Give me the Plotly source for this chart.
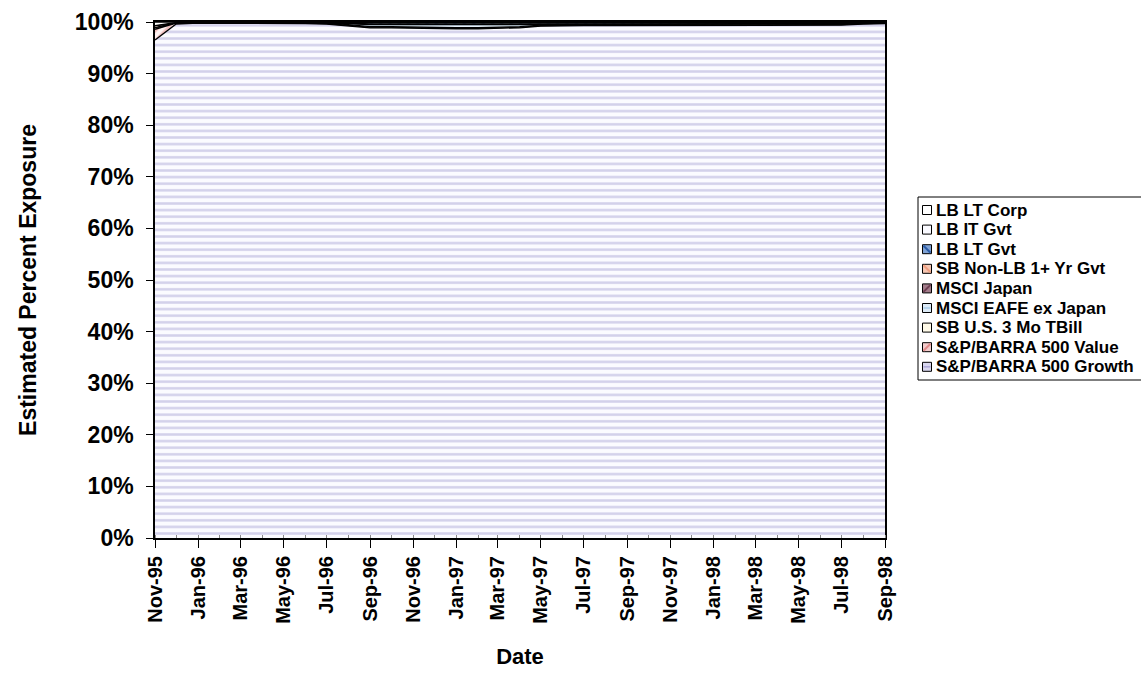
import plotly.graph_objects as go

# Monthly exposure estimates, Nov-95 .. Sep-98 (percent of portfolio)
months = ["1995-11-01", "1995-12-01", "1996-01-01", "1996-02-01", "1996-03-01", "1996-04-01",
          "1996-05-01", "1996-06-01", "1996-07-01", "1996-08-01", "1996-09-01", "1996-10-01",
          "1996-11-01", "1996-12-01", "1997-01-01", "1997-02-01", "1997-03-01", "1997-04-01",
          "1997-05-01", "1997-06-01", "1997-07-01", "1997-08-01", "1997-09-01", "1997-10-01",
          "1997-11-01", "1997-12-01", "1998-01-01", "1998-02-01", "1998-03-01", "1998-04-01",
          "1998-05-01", "1998-06-01", "1998-07-01", "1998-08-01", "1998-09-01"]

sp_growth = [96.5, 99.6, 99.8, 99.8, 99.8, 99.8, 99.7, 99.7, 99.6, 99.3, 98.9, 98.9,
             98.8, 98.8, 98.7, 98.7, 98.8, 98.9, 99.2, 99.3, 99.3, 99.3, 99.3, 99.3,
             99.3, 99.3, 99.3, 99.3, 99.3, 99.3, 99.3, 99.3, 99.4, 99.6, 99.7]
sp_value = [2.1, 0.2, 0.1, 0.1, 0.1, 0.1, 0.1, 0.1, 0.1, 0.1, 0.1, 0.1,
            0.1, 0.1, 0.1, 0.1, 0.1, 0.1, 0.1, 0.1, 0.1, 0.1, 0.1, 0.1,
            0.1, 0.1, 0.1, 0.1, 0.1, 0.1, 0.1, 0.1, 0.1, 0.1, 0.1]
tbill = [0.3, 0.1, 0.0, 0.0, 0.0, 0.0, 0.1, 0.1, 0.1, 0.1, 0.1, 0.1,
         0.1, 0.1, 0.1, 0.1, 0.1, 0.1, 0.1, 0.1, 0.1, 0.1, 0.1, 0.1,
         0.1, 0.1, 0.1, 0.1, 0.1, 0.1, 0.1, 0.1, 0.1, 0.1, 0.0]
eafe_ex_japan = [0.0, 0.0, 0.0, 0.0, 0.0, 0.0, 0.0, 0.0, 0.1, 0.2, 0.4, 0.4,
                 0.5, 0.5, 0.6, 0.6, 0.5, 0.4, 0.2, 0.1, 0.1, 0.1, 0.1, 0.1,
                 0.1, 0.1, 0.1, 0.1, 0.1, 0.1, 0.1, 0.1, 0.1, 0.1, 0.0]
msci_japan = [0.0, 0.0, 0.0, 0.0, 0.0, 0.0, 0.0, 0.0, 0.0, 0.1, 0.1, 0.1,
              0.1, 0.1, 0.1, 0.1, 0.1, 0.1, 0.1, 0.1, 0.1, 0.1, 0.1, 0.1,
              0.1, 0.1, 0.1, 0.1, 0.1, 0.1, 0.1, 0.1, 0.0, 0.0, 0.0]
sb_non_lb = [0.4, 0.0, 0.0, 0.0, 0.0, 0.0, 0.0, 0.0, 0.0, 0.0, 0.0, 0.0,
             0.0, 0.0, 0.0, 0.0, 0.0, 0.0, 0.0, 0.0, 0.0, 0.0, 0.0, 0.0,
             0.0, 0.0, 0.0, 0.0, 0.0, 0.0, 0.0, 0.0, 0.0, 0.0, 0.0]
lb_lt_gvt = [0.0, 0.0, 0.0, 0.0, 0.0, 0.0, 0.0, 0.0, 0.0, 0.1, 0.2, 0.2,
             0.2, 0.2, 0.2, 0.2, 0.2, 0.2, 0.1, 0.1, 0.1, 0.1, 0.1, 0.1,
             0.1, 0.1, 0.1, 0.1, 0.1, 0.1, 0.1, 0.1, 0.1, 0.0, 0.1]
lb_it_gvt = [0.0, 0.0, 0.0, 0.0, 0.0, 0.0, 0.0, 0.0, 0.0, 0.0, 0.1, 0.1,
             0.1, 0.1, 0.1, 0.1, 0.1, 0.1, 0.1, 0.1, 0.1, 0.1, 0.1, 0.1,
             0.1, 0.1, 0.1, 0.1, 0.1, 0.1, 0.1, 0.1, 0.1, 0.0, 0.0]
lb_lt_corp = [0.7, 0.1, 0.1, 0.1, 0.1, 0.1, 0.1, 0.1, 0.1, 0.1, 0.1, 0.1,
              0.1, 0.1, 0.1, 0.1, 0.1, 0.1, 0.1, 0.1, 0.1, 0.1, 0.1, 0.1,
              0.1, 0.1, 0.1, 0.1, 0.1, 0.1, 0.1, 0.1, 0.1, 0.1, 0.1]

tick_dates = months[::2]
tick_labels = ["Nov-95", "Jan-96", "Mar-96", "May-96", "Jul-96", "Sep-96", "Nov-96", "Jan-97",
               "Mar-97", "May-97", "Jul-97", "Sep-97", "Nov-97", "Jan-98", "Mar-98", "May-98",
               "Jul-98", "Sep-98"]

# stacking order, bottom to top:
# (name, values, hatch shape, hatch colour, background, legend swatch colour)
series = [
    ("S&P/BARRA 500 Growth", sp_growth, "-", "#aca7d6", "#fbfbff", "#d8d6ee"),
    ("S&P/BARRA 500 Value", sp_value, "/", "#e08a8a", "#fff4f4", "#f3cccc"),
    ("SB U.S. 3 Mo TBill", tbill, "", "#fff6e0", "#fff8e6", "#fffae8"),
    ("MSCI EAFE ex Japan", eafe_ex_japan, "-", "#a9cbea", "#ffffff", "#dceaf6"),
    ("MSCI Japan", msci_japan, "/", "#6e3e52", "#e8d8de", "#a27c8a"),
    ("SB Non-LB 1+ Yr Gvt", sb_non_lb, "\\", "#ef9f80", "#fff2ec", "#f6c6b2"),
    ("LB LT Gvt", lb_lt_gvt, "\\", "#2b5ca8", "#dce8f6", "#7fa2d4"),
    ("LB IT Gvt", lb_it_gvt, "", "#ffffff", "#ffffff", "#fafaff"),
    ("LB LT Corp", lb_lt_corp, "", "#ffffff", "#ffffff", "#ffffff"),
]

FONT = "Liberation Sans, Arial, sans-serif"

# plot area in pixels, used to place the legend block drawn beside it
L, R, T, B = 155, 885, 22, 538
W, H = 1141, 677


def px_x(px):
    return (px - L) / (R - L)


def px_y(py):
    return (B - py) / (B - T)


fig = go.Figure()

for name, vals, shape, fg, bg, sw in series:
    fp = dict(shape=shape, fgcolor=fg, bgcolor=bg, size=6.6, solidity=0.38) if shape else None
    fig.add_trace(go.Scatter(
        x=months, y=vals, name=name, mode="lines",
        stackgroup="mix",
        line=dict(color="black", width=1.4),
        fillcolor=bg if not shape else None,
        fillpattern=fp,
        showlegend=False, hoverinfo="x+y+name",
    ))

# legend block: outlined swatches with labels, top of the stack listed first
shapes = []
annotations = []
box_left, box_top, box_bottom = 918, 197, 380
shapes.append(dict(type="rect", xref="paper", yref="paper",
                   x0=px_x(box_left), x1=px_x(W + 10), y0=px_y(box_bottom), y1=px_y(box_top),
                   line=dict(color="black", width=1), fillcolor="white", layer="above"))
row0, row_step = 210, 19.6
for i, (name, vals, shape, fg, bg, sw) in enumerate(reversed(series)):
    cy = row0 + i * row_step
    x0, x1 = 922.5, 931.5
    y0, y1 = cy - 4.5, cy + 4.5
    shapes.append(dict(type="rect", xref="paper", yref="paper",
                       x0=px_x(x0), x1=px_x(x1), y0=px_y(y1), y1=px_y(y0),
                       line=dict(color="black", width=1), fillcolor=sw, layer="above"))
    if shape == "-":
        shapes.append(dict(type="line", xref="paper", yref="paper",
                           x0=px_x(x0 + 1), x1=px_x(x1 - 1), y0=px_y(cy), y1=px_y(cy),
                           line=dict(color=fg, width=1.5), layer="above"))
    elif shape in ("/", "\\"):
        ya, yb = (y1 - 1, y0 + 1) if shape == "/" else (y0 + 1, y1 - 1)
        shapes.append(dict(type="line", xref="paper", yref="paper",
                           x0=px_x(x0 + 1), x1=px_x(x1 - 1), y0=px_y(ya), y1=px_y(yb),
                           line=dict(color=fg, width=2), layer="above"))
    annotations.append(dict(xref="paper", yref="paper", x=px_x(934), y=px_y(cy),
                            xanchor="left", yanchor="middle", showarrow=False, text=name,
                            font=dict(family=FONT, size=17, weight="bold", color="black")))

fig.update_layout(
    width=W, height=H,
    margin=dict(l=L, r=W - R, t=T, b=H - B, autoexpand=False),
    paper_bgcolor="white", plot_bgcolor="white",
    font=dict(family=FONT, color="black", size=20, weight="bold"),
    showlegend=False,
    shapes=shapes,
    annotations=annotations,
    xaxis=dict(
        type="date",
        range=[months[0], months[-1]],
        tickmode="array", tickvals=tick_dates, ticktext=tick_labels,
        tickangle=-90, ticks="outside", ticklen=8, tickcolor="black",
        minor=dict(dtick="M1", tick0=months[0], ticks="inside", ticklen=3, tickcolor="#888888"),
        showline=True, linecolor="black", linewidth=2, mirror=True,
        showgrid=False, zeroline=False,
        tickfont=dict(family=FONT, size=20, weight="bold"),
        title=dict(text="Date", font=dict(family=FONT, size=22, weight="bold"), standoff=26),
    ),
    yaxis=dict(
        range=[0, 100], tickmode="linear", tick0=0, dtick=10, ticksuffix="%",
        ticks="outside", ticklen=7, tickcolor="black", ticklabelstandoff=8,
        showline=True, linecolor="black", linewidth=1.5, mirror=True,
        showgrid=False, zeroline=False,
        tickfont=dict(family=FONT, size=23, weight="bold"),
        title=dict(text="Estimated Percent Exposure",
                   font=dict(family=FONT, size=23, weight="bold"), standoff=32),
    ),
)

fig.write_html("out.html")
